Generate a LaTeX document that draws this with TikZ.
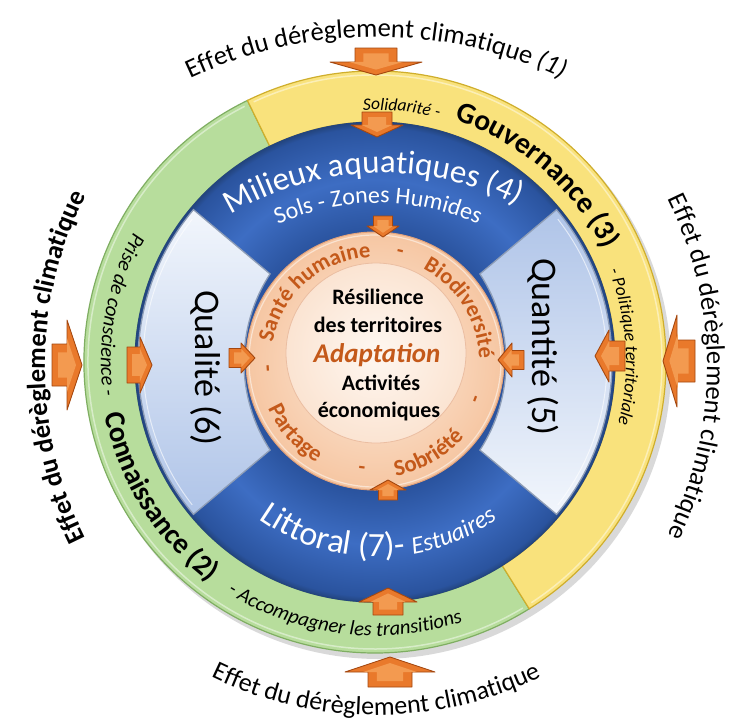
\documentclass[tikz,border=0pt]{standalone}
\usepackage{fontspec}
\setmainfont{Carlito}
\usetikzlibrary{decorations.text}
\definecolor{ylw}{HTML}{F9E27C}
\definecolor{ylwedge}{HTML}{CFAE2C}
\definecolor{grn}{HTML}{B7DD9C}
\definecolor{grnedge}{HTML}{7FAE62}
\definecolor{bluedk}{HTML}{2A539E}
\definecolor{bluelt}{HTML}{3D6DC3}
\definecolor{bluerim}{HTML}{23457F}
\definecolor{lbA}{HTML}{F2F6FC}
\definecolor{lbB}{HTML}{AFC4E8}
\definecolor{lbedge}{HTML}{8E9DB6}
\definecolor{peachin}{HTML}{FDEBDC}
\definecolor{peachout}{HTML}{F6C6A2}
\definecolor{peachedge}{HTML}{E2A27A}
\definecolor{coreA}{HTML}{FEF7F1}
\definecolor{coreB}{HTML}{FBE4D2}
\definecolor{orangetxt}{HTML}{C4591A}
\definecolor{arrfill}{HTML}{E9792B}
\definecolor{arredge}{HTML}{A4470F}
\definecolor{arrlight}{HTML}{F39A50}
\newcommand\fsz[1]{\fontsize{#1}{#1}\selectfont}
\pgfdeclareradialshading{bluering}{\pgfpoint{0bp}{0bp}}{color(0bp)=(bluedk); color(13.4bp)=(bluedk); color(19bp)=(bluelt); color(24.4bp)=(bluedk); color(25bp)=(bluerim); color(50bp)=(bluerim)}
\tikzset{
  arrbody/.style={fill=arrfill, draw=arredge, line width=0.9pt, line join=round},
  arrinner/.style={fill=arrlight},
  ctext/.style={font=\bfseries\fsz{22}, inner sep=0pt},
  dashmark/.style={font=\bfseries\fsz{22}, text=orangetxt, inner sep=0pt},
  sectortext/.style={font=\fsz{36}, rotate=-90, inner sep=0pt},
}
% #1 x, #2 y (image), #3 rotation, #4 shaft half width, #5 shaft length, #6 head half width, #7 head length
\newcommand\orangearrow[7]{%
  \begin{scope}[shift={(#1,-#2)},rotate=#3]
    \filldraw[arrbody] (0,0) -- (-#7,#6) -- (-#7,#4) -- ({-#7-#5},#4) -- ({-#7-#5},-#4) -- (-#7,-#4) -- (-#7,-#6) -- cycle;
    \begin{scope}[shift={({-(#5+#7)/2},0)},scale=0.6,shift={({(#5+#7)/2},0)}]
      \fill[arrinner] (0,0) -- (-#7,#6) -- (-#7,#4) -- ({-#7-#5},#4) -- ({-#7-#5},-#4) -- (-#7,-#4) -- (-#7,-#6) -- cycle;
    \end{scope}
  \end{scope}}
\begin{document}
\begin{tikzpicture}[x=1pt,y=1pt]
\useasboundingbox (0,0) rectangle (731,-724);
\fill[white] (0,0) rectangle (731,-724);
\begin{scope}[shift={(375,-362)}]
  \fill[black,opacity=0.15] (4,-5) circle[radius=292];
  % green ring
  \filldraw[fill=grn, draw=grnedge, line width=1.2pt] (116:291) arc[start angle=116,end angle=302,radius=291] -- (302:240) arc[start angle=302,end angle=116,radius=240] -- cycle;
  \draw[white,opacity=0.45,line width=1.5pt] (117:287) arc[start angle=117,end angle=301,radius=287];
  % yellow ring
  \filldraw[fill=ylw, draw=ylwedge, line width=1.2pt] (116:291) arc[start angle=116,end angle=-58,radius=291] -- (-58:240) arc[start angle=-58,end angle=116,radius=240] -- cycle;
  \draw[white,opacity=0.45,line width=1.5pt] (115:287) arc[start angle=115,end angle=-57,radius=287];
  % blue band
  \shade[shading=bluering] (0,0) circle[radius=240];
  \draw[bluerim, line width=1pt] (0,0) circle[radius=240];
  % light sectors (pointed inner corners)
  \shadedraw[top color=lbA, bottom color=lbB, draw=lbedge, line width=1.3pt, line join=miter] (140:237) arc[start angle=140,end angle=220,radius=237] -- (220:137) arc[start angle=213,end angle=147,radius=161.7] -- cycle;
  \shadedraw[top color=lbB, bottom color=lbA, draw=lbedge, line width=1.3pt, line join=miter] (40:237) arc[start angle=40,end angle=-40,radius=237] -- (-40:137) arc[start angle=-33,end angle=33,radius=161.7] -- cycle;
  \draw[white,opacity=0.6,line width=1pt] (142:232) arc[start angle=142,end angle=218,radius=232];
  \draw[white,opacity=0.6,line width=1pt] (38:232) arc[start angle=38,end angle=-38,radius=232];
  % peach disc
  \shadedraw[inner color=peachin, outer color=peachout, draw=peachedge, line width=1pt] (0,1) circle[radius=129];
  \draw[white,opacity=0.5,line width=1.2pt] (0,1) circle[radius=126];
  \shadedraw[inner color=coreA, outer color=coreB, draw=peachedge!70, line width=0.8pt] (1,9) circle[radius=90];
\end{scope}
% arrows
\orangearrow{376}{75}{-90}{21}{14}{46}{13}
\orangearrow{377}{137}{-90}{15}{13}{26}{12}
\orangearrow{383}{237}{-90}{9.5}{10}{16}{11}
\orangearrow{388}{480}{90}{9.5}{10}{18}{10}
\orangearrow{388}{588}{90}{15}{13}{29}{14}
\orangearrow{390}{657}{90}{22}{15}{45}{15}
\orangearrow{82}{365}{0}{21}{15}{45}{15}
\orangearrow{152}{365}{0}{18}{13}{28}{12}
\orangearrow{255}{358}{0}{9.5}{12}{15}{14}
\orangearrow{498}{360}{180}{9.5}{12}{17}{14}
\orangearrow{595}{356}{180}{15}{16}{26}{14}
\orangearrow{663}{361}{180}{21}{18}{46}{14}
% outer texts
\path[decorate, decoration={text along path, text align=center, text={|\fsz{26.5}|Effet du dérèglement climatique |\fsz{26.5}\itshape|(1)}}] ([shift={(376,-474)}]120:437) arc[start angle=120,end angle=60,radius=437];
\path[decorate, decoration={text along path, text align=center, text={|\fsz{26}|Effet du dérèglement climatique}}] ([shift={(376,-338)}]235:377) arc[start angle=235,end angle=305,radius=377];
\path[decorate, decoration={text along path, text align=center, text={|\bfseries\fsz{26.5}|Effet du dérèglement climatique}}] ([shift={(426,-367)}]215:381) arc[start angle=215,end angle=145,radius=381];
\path[decorate, decoration={text along path, text align=center, text={|\fsz{26.5}|Effet du dérèglement climatique}}] ([shift={(326,-367)}]35:381) arc[start angle=35,end angle=-35,radius=381];
% yellow ring texts
\path[decorate, decoration={text along path, text align=center, text={|\itshape\fsz{17.5}|Solidarité -}}] ([shift={(375,-362)}]110:252) arc[start angle=110,end angle=58,radius=252];
\path[decorate, decoration={text along path, text align=center, text={|\bfseries\fsz{29.5}|Gouvernance (3)}}] ([shift={(375,-362)}]80:255) arc[start angle=80,end angle=18,radius=255];
\path[decorate, decoration={text along path, text align=center, text={|\itshape\fsz{18}|- Politique territoriale}}] ([shift={(375,-362)}]40:251) arc[start angle=40,end angle=-33,radius=251];
% green ring texts
\path[decorate, decoration={text along path, text align=center, text={|\itshape\fsz{20.5}|Prise de conscience -}}] ([shift={(375,-362)}]130:274) arc[start angle=130,end angle=209,radius=274];
\path[decorate, decoration={text along path, text align=center, text={|\bfseries\fsz{29}|Connaissance (2)}}] ([shift={(375,-362)}]180:275) arc[start angle=180,end angle=244,radius=275];
\path[decorate, decoration={text along path, text align=center, text={|\itshape\fsz{20.5}|- Accompagner les transitions}}] ([shift={(375,-362)}]220:274) arc[start angle=220,end angle=306,radius=274];
% blue band texts
\path[decorate, decoration={text along path, text align=center, text color=white, text={|\fsz{33}|Milieux aquatiques (4)}}] ([shift={(383,-469)}]125:296) arc[start angle=125,end angle=59,radius=296];
\path[decorate, decoration={text along path, text align=center, text color=white, text={|\fsz{24}|Sols - Zones Humides}}] ([shift={(378,-448)}]120:245) arc[start angle=120,end angle=60,radius=245];
\path[decorate, decoration={text along path, text align=center, text color=white, text={|\fsz{34}|Littoral (7)- |\itshape\fsz{25}|Estuaires}}] ([shift={(378,-351)}]225:206) arc[start angle=225,end angle=315,radius=206];
\node[sectortext] (qual) at (206,-368) {Qualité (6)};
\node[sectortext] (quant) at (543,-347) {Quantité (5)};
% peach ring texts
\path[decorate, decoration={text along path, text align=center, text color=orangetxt, text={|\bfseries\fsz{22.5}|Santé humaine}}] ([shift={(375,-361)}]185:104) arc[start angle=185,end angle=77,radius=104];
\path[decorate, decoration={text along path, text align=center, text color=orangetxt, text={|\bfseries\fsz{22.5}|Biodiversité}}] ([shift={(375,-361)}]80:104) arc[start angle=80,end angle=-16,radius=104];
\path[decorate, decoration={text along path, text align=center, text color=orangetxt, text={|\bfseries\fsz{23}|Partage}}] ([shift={(375,-361)}]180:117) arc[start angle=180,end angle=264,radius=117];
\path[decorate, decoration={text along path, text align=center, text color=orangetxt, text={|\bfseries\fsz{23}|Sobriété}}] ([shift={(375,-361)}]258:117) arc[start angle=258,end angle=342,radius=117];
\node[dashmark, rotate=-13] (d1) at ([shift={(375,-361)}]77:110) {-};
\node[dashmark, rotate=69] (d2) at ([shift={(375,-361)}]339:110) {-};
\node[dashmark, rotate=353] (d3) at ([shift={(375,-361)}]263:110) {-};
\node[dashmark, rotate=-86] (d4) at ([shift={(375,-361)}]184:110) {-};
% centre
\node[ctext] (res) at (378,-297) {Résilience};
\node[ctext] (terr) at (378,-325) {des territoires};
\node[font=\bfseries\itshape\fsz{27}, text=orangetxt, inner sep=0pt] (adapt) at (377,-355) {Adaptation};
\node[ctext] (act) at (381,-383) {Activités};
\node[ctext] (eco) at (379,-412) {économiques};
\end{tikzpicture}
\end{document}
